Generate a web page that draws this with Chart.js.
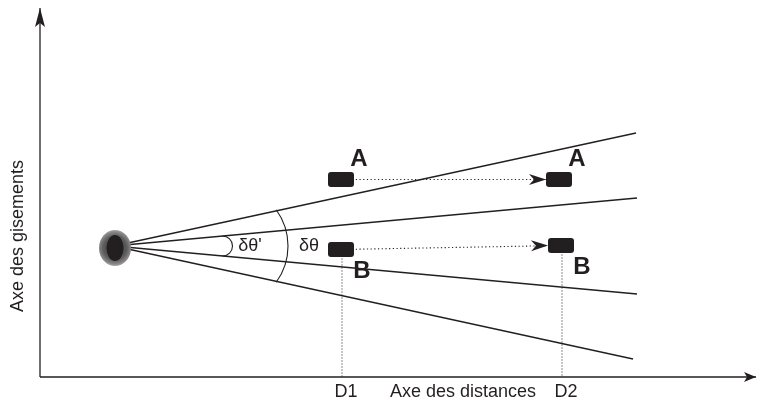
<!DOCTYPE html>
<html>
<head>
<meta charset="utf-8">
<script src="https://cdn.jsdelivr.net/npm/chart.js@4"></script>
<style>
  body { margin: 0; background: #fff; }
  #myChart { display: block; }
</style>
</head>
<body>
<canvas id="myChart" width="757" height="403"></canvas>
<script>
// DIAGRAM - data (units: distance along x, bearing along y, origin at axes corner)
const radarPos = [74, 131];
const rayEndX = [596, 597, 597, 593];
const rayEndY = [244, 179, 83, 18];
const vehicleNames = ["A", "B", "A", "B"];
const vehicleX = [301, 301, 519, 521];
const vehicleY = [197.5, 127.5, 197.5, 131.5];
const distanceTicks = ["D1", "D2"];
const distanceX = [302, 522];
const axisTitles = ["Axe des distances", "Axe des gisements"];
const axisEnds = [716, 369];
const angleLabels = ["δθ'", "δθ"];
const angleLabelX = [210, 269];

const INK = "#231f20";
const FONT = "'Liberation Sans', Arial, sans-serif";

function seg(x1, y1, x2, y2, extra) {
  return Object.assign(
    {
      data: [{ x: x1, y: y1 }, { x: x2, y: y2 }],
      showLine: true,
      borderColor: INK,
      borderWidth: 1.3,
      pointRadius: 0,
      fill: false,
    },
    extra || {}
  );
}

const datasets = [];
// axes
datasets.push(seg(0, 0, axisEnds[0], 0, { borderWidth: 1.5 }));
datasets.push(seg(0, 0, 0, axisEnds[1], { borderWidth: 1.4, borderColor: "#333" }));
// rays from the radar
for (let i = 0; i < rayEndX.length; i++) {
  datasets.push(seg(radarPos[0], radarPos[1], rayEndX[i], rayEndY[i]));
}
// dotted displacements A -> A, B -> B
datasets.push(seg(vehicleX[0], vehicleY[0], vehicleX[2], vehicleY[2], { borderDash: [1.2, 2.5], borderWidth: 1.1 }));
datasets.push(seg(vehicleX[1], vehicleY[1], vehicleX[3], vehicleY[3], { borderDash: [1.2, 2.5], borderWidth: 1.1 }));
// dotted drops to the distance axis
datasets.push(seg(distanceX[0], vehicleY[1], distanceX[0], 0, { borderDash: [1, 2], borderWidth: 1 }));
datasets.push(seg(distanceX[1], vehicleY[3], distanceX[1], 0, { borderDash: [1, 2], borderWidth: 1 }));

function arrowHead(ctx, fx, fy, tx, ty, len, half, notch) {
  const a = Math.atan2(ty - fy, tx - fx);
  ctx.save();
  ctx.translate(tx, ty);
  ctx.rotate(a);
  ctx.beginPath();
  ctx.moveTo(0, 0);
  ctx.lineTo(-len, -half);
  ctx.lineTo(-len + notch, 0);
  ctx.lineTo(-len, half);
  ctx.closePath();
  ctx.fillStyle = INK;
  ctx.fill();
  ctx.restore();
}

function roundRect(ctx, x, y, w, h, r) {
  ctx.beginPath();
  ctx.moveTo(x + r, y);
  ctx.lineTo(x + w - r, y);
  ctx.quadraticCurveTo(x + w, y, x + w, y + r);
  ctx.lineTo(x + w, y + h - r);
  ctx.quadraticCurveTo(x + w, y + h, x + w - r, y + h);
  ctx.lineTo(x + r, y + h);
  ctx.quadraticCurveTo(x, y + h, x, y + h - r);
  ctx.lineTo(x, y + r);
  ctx.quadraticCurveTo(x, y, x + r, y);
  ctx.closePath();
}

const decorations = {
  id: "decorations",
  afterDatasetsDraw(chart) {
    const ctx = chart.ctx;
    const sx = chart.scales.x;
    const sy = chart.scales.y;
    const px = (v) => sx.getPixelForValue(v);
    const py = (v) => sy.getPixelForValue(v);

    // axis arrowheads
    arrowHead(ctx, px(0), py(0), px(axisEnds[0]), py(0), 12, 5, 3);
    arrowHead(ctx, px(0), py(0), px(0), py(axisEnds[1]), 19, 5, 4);

    // angle arcs
    ctx.save();
    ctx.strokeStyle = INK;
    ctx.lineWidth = 1.1;
    ctx.beginPath();
    ctx.arc(px(radarPos[0] + 112.5), py(radarPos[1]), 61.5, -0.63, 0.63);
    ctx.stroke();
    ctx.beginPath();
    ctx.arc(px(radarPos[0] + 108.5), py(radarPos[1]), 10, -Math.PI / 2, Math.PI / 2);
    ctx.stroke();
    ctx.restore();

    // radar blob
    const cx = px(radarPos[0]) + 1;
    const cy = py(radarPos[1]) + 2;
    ctx.save();
    const g = ctx.createRadialGradient(cx, cy, 6, cx, cy, 18);
    g.addColorStop(0, "#444");
    g.addColorStop(0.5, "#5e5e5e");
    g.addColorStop(0.85, "#8a8a8a");
    g.addColorStop(1, "#a8a8a8");
    ctx.fillStyle = g;
    ctx.beginPath();
    ctx.ellipse(cx, cy, 16, 18, 0, 0, Math.PI * 2);
    ctx.fill();
    ctx.fillStyle = INK;
    ctx.beginPath();
    ctx.ellipse(cx, cy, 8.5, 13, 0, 0, Math.PI * 2);
    ctx.fill();
    ctx.restore();

    // dotted arrow heads at the second positions
    arrowHead(ctx, px(vehicleX[0]), py(vehicleY[0]), px(vehicleX[2]) - 13, py(vehicleY[2]), 17, 5.5, 5);
    arrowHead(ctx, px(vehicleX[1]), py(vehicleY[1]), px(vehicleX[3]) - 13, py(vehicleY[3]), 17, 5.5, 5);

    // vehicles and their letters
    ctx.save();
    for (let i = 0; i < vehicleNames.length; i++) {
      const vx = px(vehicleX[i]);
      const vy = py(vehicleY[i]);
      ctx.fillStyle = INK;
      roundRect(ctx, vx - 13, vy - 7.5, 26, 15, 3);
      ctx.fill();
      ctx.font = "bold 24px " + FONT;
      ctx.textAlign = "center";
      ctx.textBaseline = "middle";
      const above = vehicleNames[i] == "A";
      ctx.fillText(vehicleNames[i], vx + (above ? 18 : 21), vy + (above ? -20 : 22));
    }
    ctx.restore();

    // texts
    ctx.save();
    ctx.fillStyle = INK;
    ctx.font = "18px " + FONT;
    ctx.textAlign = "center";
    ctx.textBaseline = "middle";
    for (let i = 0; i < distanceTicks.length; i++) {
      ctx.fillText(distanceTicks[i], px(distanceX[i]) + 4, py(-15));
    }
    ctx.fillText(axisTitles[0], px(423), py(-15));
    for (let i = 0; i < angleLabels.length; i++) {
      ctx.fillText(angleLabels[i], px(angleLabelX[i]), py(radarPos[1]));
    }
    ctx.translate(px(-22), py(141));
    ctx.rotate(-Math.PI / 2);
    ctx.fillText(axisTitles[1], 0, 0);
    ctx.restore();
  },
};

const ctx = document.getElementById("myChart");

new Chart(ctx, {
  type: "scatter",
  data: { datasets: datasets },
  options: {
    responsive: false,
    animation: false,
    layout: { padding: 0 },
    plugins: {
      legend: { display: false },
      tooltip: { enabled: false },
    },
    scales: {
      x: { type: "linear", min: -40, max: 717, display: false },
      y: { type: "linear", min: -26, max: 377, display: false },
    },
  },
  plugins: [decorations],
});
</script>
</body>
</html>
